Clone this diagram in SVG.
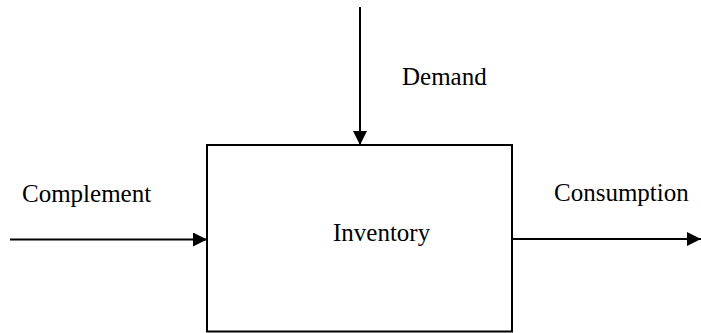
<svg xmlns="http://www.w3.org/2000/svg" width="701" height="333" viewBox="0 0 701 333">
<style>
text{font-family:"Liberation Serif","Times New Roman",serif;font-size:25px;fill:#000}
.c{stroke:#000;stroke-width:2;fill:none}
</style>
<defs>
<marker id="ah" markerUnits="userSpaceOnUse" markerWidth="14" markerHeight="14" refX="14" refY="7" orient="auto">
<path d="M0,0 L14,7 L0,14 Z" fill="#000"/>
</marker>
</defs>
<rect width="701" height="333" fill="#fff"/>
<g id="inventory">
<rect x="207" y="145" width="305" height="186.5" fill="#fff" stroke="#000" stroke-width="2"/>
<text x="333" y="241">Inventory</text>
</g>
<g id="connectors">
<line class="c" x1="360" y1="7" x2="360" y2="145" marker-end="url(#ah)"/>
<line class="c" x1="10" y1="239.5" x2="207" y2="239.5" marker-end="url(#ah)"/>
<line class="c" x1="512" y1="239" x2="701" y2="239" marker-end="url(#ah)"/>
</g>
<g id="labels">
<text x="402" y="85">Demand</text>
<text x="22" y="201.5">Complement</text>
<text x="554" y="201">Consumption</text>
</g>
</svg>
